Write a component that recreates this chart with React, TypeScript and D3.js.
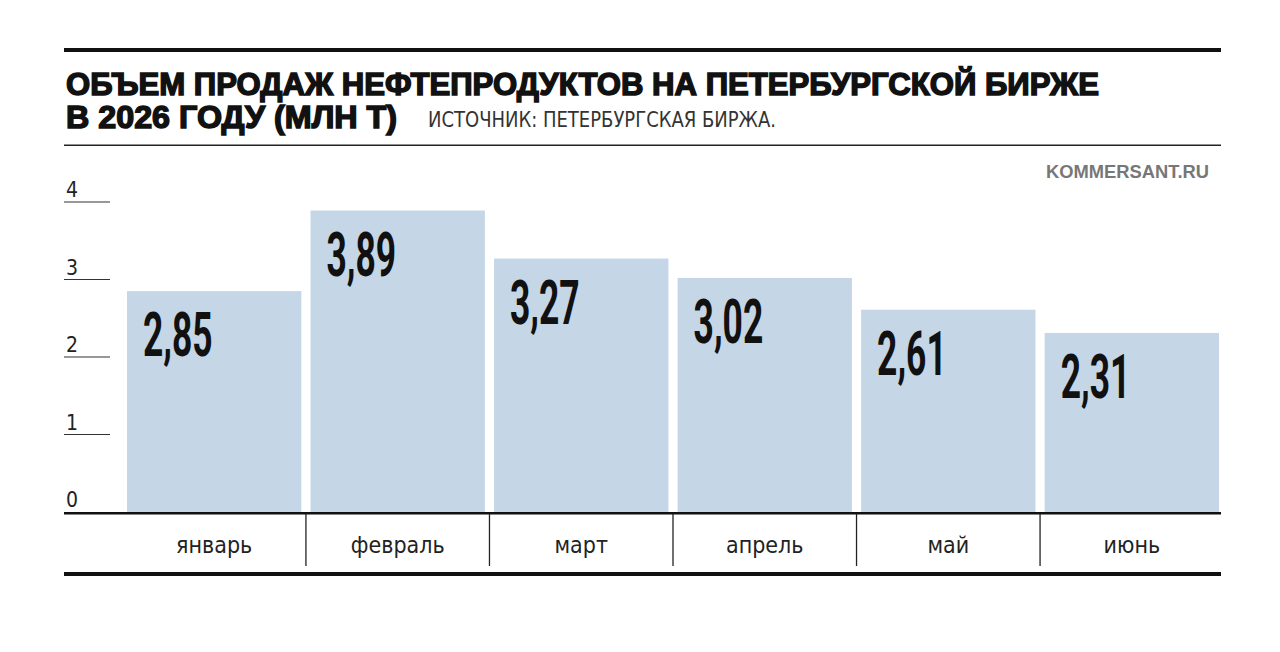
import * as d3 from "d3";
import { useEffect, useRef } from "react";

const months = ["январь", "февраль", "март", "апрель", "май", "июнь"];
const volumes = [2.85, 3.89, 3.27, 3.02, 2.61, 2.31];
const yTicks = [0, 1, 2, 3, 4];

const titleLines = [
  "ОБЪЕМ ПРОДАЖ НЕФТЕПРОДУКТОВ НА ПЕТЕРБУРГСКОЙ БИРЖЕ",
  "В 2026 ГОДУ (МЛН Т)",
];
const sourceText = "ИСТОЧНИК: ПЕТЕРБУРГСКАЯ БИРЖА.";
const brandText = "KOMMERSANT.RU";

const W = 1280;
const H = 652;
const narrow = "'Liberation Sans Narrow', 'DejaVu Sans Condensed', 'Roboto', sans-serif";

export default function App() {
  const ref = useRef<SVGSVGElement | null>(null);

  useEffect(() => {
    const svg = d3.select(ref.current);
    svg.selectAll("*").remove();

    const left = 64;
    const right = 1221;
    const baseY = 512;

    const x = d3.scaleBand<string>().domain(months).range([127, 1219]).paddingInner(0.05);
    const y = d3.scaleLinear().domain([0, 4]).range([baseY, 202]);

    svg.append("rect").attr("width", W).attr("height", H).attr("fill", "#fff");

    // frame rules
    svg.append("rect").attr("x", left).attr("y", 48).attr("width", right - left).attr("height", 4).attr("fill", "#111");
    svg.append("rect").attr("x", left).attr("y", 144.5).attr("width", right - left).attr("height", 1.5).attr("fill", "#222");
    svg.append("rect").attr("x", left).attr("y", 572).attr("width", right - left).attr("height", 4).attr("fill", "#111");

    // title
    const title = svg.append("g").attr("font-family", "'Liberation Sans', Arial, sans-serif").attr("font-weight", 900).attr("fill", "#111");
    title.append("text").attr("x", 66).attr("y", 95).attr("font-size", 32)
      .attr("textLength", 1033).attr("lengthAdjust", "spacingAndGlyphs")
      .style("stroke", "#111").style("stroke-width", 1.5)
      .text(titleLines[0]);
    title.append("text").attr("x", 66).attr("y", 128).attr("font-size", 32)
      .attr("textLength", 331).attr("lengthAdjust", "spacingAndGlyphs")
      .style("stroke", "#111").style("stroke-width", 1.5)
      .text(titleLines[1]);

    svg.append("text").attr("x", 428).attr("y", 127).attr("font-family", narrow).attr("font-size", 21)
      .attr("fill", "#333").attr("textLength", 348).attr("lengthAdjust", "spacingAndGlyphs")
      .text(sourceText);

    svg.append("text").attr("x", 1046).attr("y", 178)
      .attr("font-family", "'Liberation Sans', Arial, sans-serif").attr("font-weight", 700)
      .attr("font-size", 17.5).attr("fill", "#777")
      .attr("textLength", 163).attr("lengthAdjust", "spacingAndGlyphs")
      .text(brandText);

    // y ticks
    const ticks = svg.append("g");
    ticks.selectAll("line").data(yTicks.filter((t) => t > 0)).join("line")
      .attr("x1", left).attr("x2", 110)
      .attr("y1", (d) => y(d)).attr("y2", (d) => y(d))
      .attr("stroke", "#333").attr("stroke-width", 1.2);
    ticks.selectAll("text").data(yTicks).join("text")
      .attr("x", 66).attr("y", (d) => y(d) - 5)
      .attr("font-family", narrow).attr("font-size", 21).attr("fill", "#222")
      .text((d) => d);

    // bars
    svg.append("g").selectAll("rect").data(volumes).join("rect")
      .attr("x", (_, i) => x(months[i])!)
      .attr("y", (d) => y(d))
      .attr("width", x.bandwidth())
      .attr("height", (d) => baseY - y(d))
      .attr("fill", "#c5d6e6");

    // value labels (condensed)
    svg.append("g").selectAll("text").data(volumes).join("text")
      .attr("transform", (d, i) => `translate(${x(months[i])! + 16},${y(d) + 65}) scale(0.58,1)`)
      .attr("font-family", "Roboto, 'Liberation Sans', sans-serif").attr("font-weight", 700).attr("font-size", 61)
      .attr("fill", "#111")
      .text((d) => d3.format(".2f")(d).replace(".", ","));

    // x axis
    svg.append("rect").attr("x", left).attr("y", baseY).attr("width", right - left).attr("height", 2.5).attr("fill", "#111");

    const step = x.step();
    svg.append("g").selectAll("line").data(months.slice(1)).join("line")
      .attr("x1", (d) => x(d)! - (step - x.bandwidth()) / 2)
      .attr("x2", (d) => x(d)! - (step - x.bandwidth()) / 2)
      .attr("y1", baseY + 2).attr("y2", 566)
      .attr("stroke", "#222").attr("stroke-width", 1.3);

    svg.append("g").selectAll("text").data(months).join("text")
      .attr("x", (d) => x(d)! + x.bandwidth() / 2)
      .attr("y", 553)
      .attr("text-anchor", "middle")
      .attr("font-family", narrow).attr("font-size", 23).attr("fill", "#222")
      .text((d) => d);
  }, []);

  return (
    <svg
      ref={ref}
      width={W}
      height={H}
      style={{ position: "absolute", left: 0, top: 0, display: "block" }}
    />
  );
}
